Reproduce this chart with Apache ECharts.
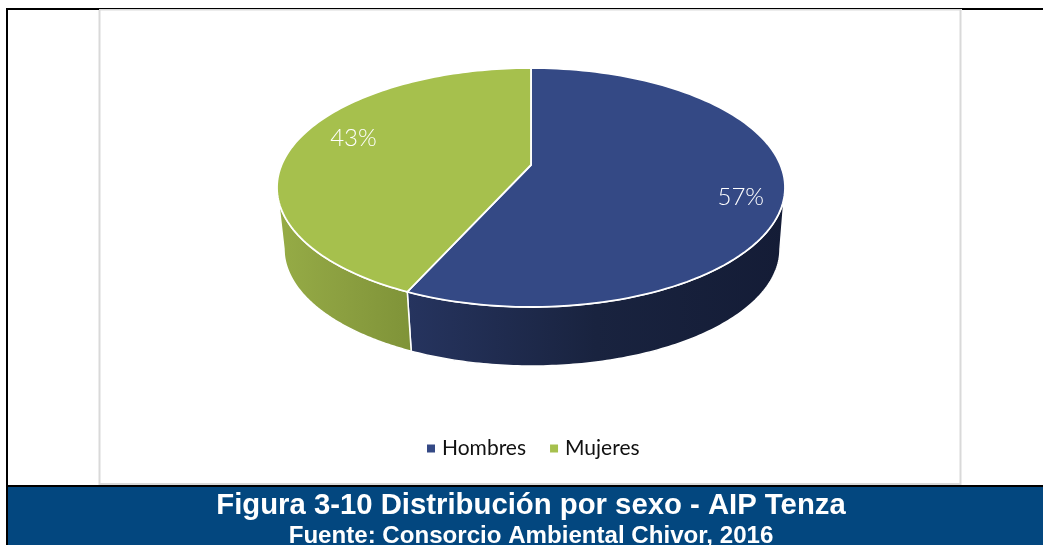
<!DOCTYPE html>
<html><head><meta charset="utf-8">
<style>html,body{margin:0;padding:0;background:#fff}#c{width:1043px;height:545px}</style>
<script src="https://cdn.jsdelivr.net/npm/echarts@6/dist/echarts.min.js"></script>
</head><body><div id="c"></div>
<script>
const categories = ['Hombres', 'Mujeres'];
const values = [57, 43];
const percentLabels = ['57%', '43%'];
const titleText = 'Figura 3-10 Distribución por sexo - AIP Tenza';
const sourceText = 'Fuente: Consorcio Ambiental Chivor, 2016';

const faceColors = ['#344985', '#a6c04d'];
const sideStops = [['#26345f', '#19233f', '#141c36'], ['#96ac46', '#8b9f40', '#7f9338']];
const TOP = {cx: 531, cy: 187.5, rx: 254, ry: 119.5, apexY: 165};
const LOW = {cx: 532, cy: 249, rx: 248, ry: 117};
const TILT = -0.15;
const LABEL_R = 0.82;
const LABEL_NUDGE = [[2, 3], [17, -14]];

const total = values.reduce((a, b) => a + b, 0);
function project(frac, k) {
  const phi = 2 * Math.PI * frac, u = Math.sin(phi), v = -Math.cos(phi), w = 1 + TILT * v;
  return [u * Math.sqrt(1 - TILT * TILT) / w * (k || 1), (v + TILT) / w * (k || 1)];
}
function onEllipse(e, t) { return [e.cx + e.rx * Math.cos(t), e.cy + e.ry * Math.sin(t)]; }
function thetaOf(frac) { const p = project(frac); return Math.atan2(p[1], p[0]); }

function renderSlice(idx) {
  return function (params, api) {
    const start = values.slice(0, idx).reduce((a, b) => a + b, 0) / total;
    const end = start + api.value(0) / total;
    const face = [[TOP.cx, TOP.apexY]], N = 120;
    for (let i = 0; i <= N; i++) {
      const p = project(start + (end - start) * i / N);
      face.push([TOP.cx + TOP.rx * p[0], TOP.cy + TOP.ry * p[1]]);
    }
    let t0 = thetaOf(start), t1 = thetaOf(end >= 1 ? 0 : end);
    if (t1 <= t0) t1 += 2 * Math.PI;
    const a = Math.max(t0, 0), b = Math.min(t1, Math.PI);
    const side = [];
    for (let i = 0; i <= N; i++) side.push(onEllipse(TOP, a + (b - a) * i / N));
    for (let i = N; i >= 0; i--) side.push(onEllipse(LOW, a + (b - a) * i / N));
    const stops = sideStops[idx];
    const lp = project((start + end) / 2, LABEL_R);
    return {
      type: 'group',
      children: [
        {type: 'polygon', z2: 1, shape: {points: side}, style: {
          fill: new echarts.graphic.LinearGradient(0, 0, 1, 0, [
            {offset: 0, color: stops[0]}, {offset: 0.5, color: stops[1]}, {offset: 1, color: stops[2]}]),
          stroke: '#fff', lineWidth: 1.5}},
        {type: 'polygon', z2: 2, shape: {points: face}, style: {
          fill: faceColors[idx], stroke: '#fff', lineWidth: 1.8}},
        {type: 'text', z2: 3, style: {
          text: percentLabels[idx],
          x: TOP.cx + TOP.rx * lp[0] + LABEL_NUDGE[idx][0],
          y: TOP.cy + TOP.ry * lp[1] + LABEL_NUDGE[idx][1],
          fill: '#fff', font: '300 24px Lato', align: 'center', verticalAlign: 'middle'}}
      ]
    };
  };
}

const frame = [
  {type: 'rect', shape: {x: 8, y: 487, width: 1035, height: 58}, style: {fill: '#03477f'}},
  {type: 'rect', shape: {x: 99.5, y: 9.5, width: 861, height: 474.5}, style: {fill: '#fff', stroke: '#d9d9d9', lineWidth: 2}},
  {type: 'rect', shape: {x: 6, y: 8, width: 2, height: 537}, style: {fill: '#000'}},
  {type: 'rect', shape: {x: 6, y: 8, width: 93, height: 2}, style: {fill: '#000'}},
  {type: 'rect', shape: {x: 99, y: 8, width: 863, height: 1}, style: {fill: '#000'}},
  {type: 'rect', shape: {x: 962, y: 8, width: 81, height: 2}, style: {fill: '#000'}},
  {type: 'rect', shape: {x: 6, y: 485, width: 1037, height: 2}, style: {fill: '#000'}}
];

const chart = echarts.init(document.getElementById('c'), null, {renderer: 'canvas'});
chart.setOption({
  animation: false,
  backgroundColor: '#fff',
  graphic: {elements: frame.map(e => Object.assign({z: -1, silent: true}, e))},
  title: [
    {text: titleText, left: 526, top: 484, textAlign: 'center', z: 5,
      textStyle: {color: '#fff', fontFamily: 'Liberation Sans', fontWeight: 'bold', fontSize: 29.3, lineHeight: 33}},
    {text: sourceText, left: 526, top: 518, textAlign: 'center', z: 5,
      textStyle: {color: '#fff', fontFamily: 'Liberation Sans', fontWeight: 'bold', fontSize: 24.1, lineHeight: 26}}
  ],
  legend: {
    data: categories, left: 422, top: 433, icon: 'rect', itemWidth: 8, itemHeight: 8, itemGap: 24,
    selectedMode: false,
    textStyle: {color: '#111', fontFamily: 'Lato', fontSize: 21, padding: [0, 0, 0, 2]}
  },
  series: categories.map((name, i) => ({
    type: 'custom', name, coordinateSystem: 'none',
    itemStyle: {color: faceColors[i]},
    renderItem: renderSlice(i),
    data: [[values[i]]]
  }))
});
</script></body></html>
